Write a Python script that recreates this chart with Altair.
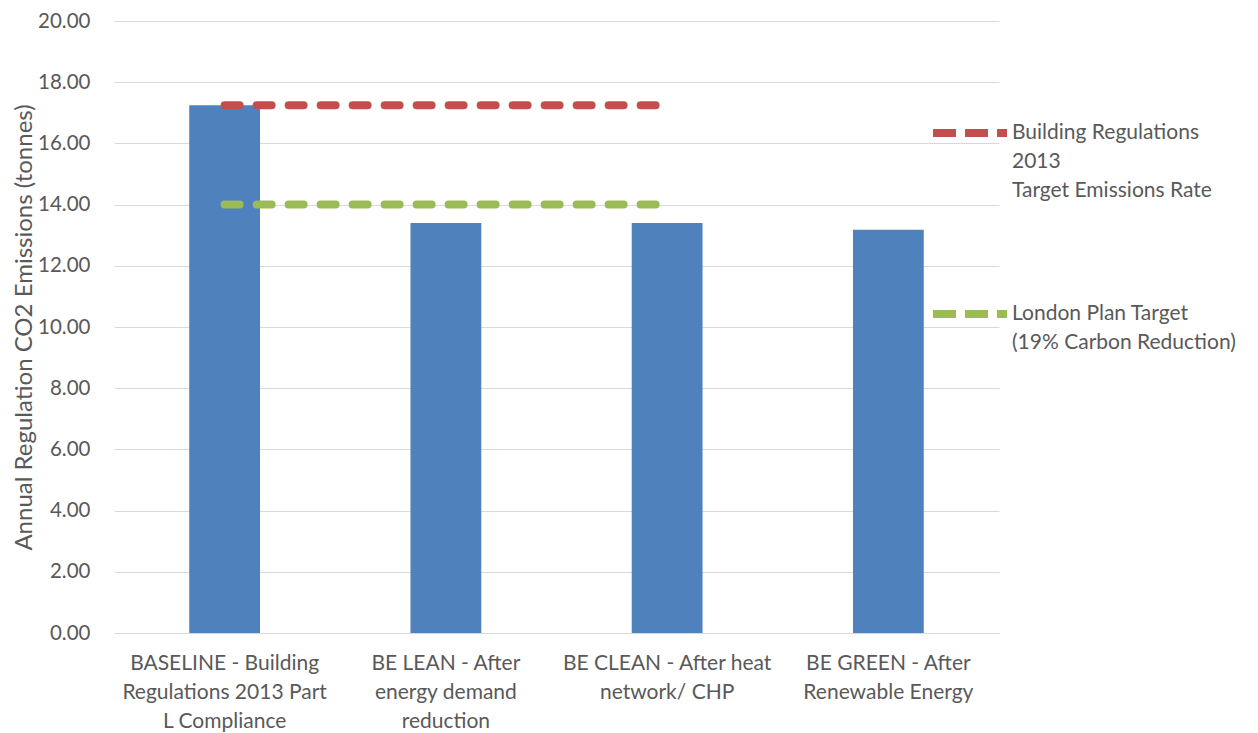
import altair as alt
import pandas as pd

# ---- data ----
categories = [
    "BASELINE - Building|Regulations 2013 Part|L Compliance",
    "BE LEAN - After|energy demand|reduction",
    "BE CLEAN - After heat|network/ CHP",
    "BE GREEN - After|Renewable Energy",
]
emissions = [17.25, 13.40, 13.40, 13.18]

series_names = [
    "Building Regulations|2013|Target Emissions Rate",
    "London Plan Target|(19% Carbon Reduction)",
]
line_categories = categories[:3]
br_target = [17.25, 17.25, 17.25]
lp_target = [14.00, 14.00, 14.00]

y_ticks = [0, 2, 4, 6, 8, 10, 12, 14, 16, 18, 20]

FONT = "Lato"
TXT = "#595959"

bars_df = pd.DataFrame({"cat": categories, "value": emissions})
lines_df = pd.DataFrame(
    {
        "cat": line_categories * 2,
        "value": br_target + lp_target,
        "series": [series_names[0]] * 3 + [series_names[1]] * 3,
    }
)

x_enc = alt.X(
    "cat:N",
    sort=categories,
    scale=alt.Scale(paddingInner=0.68, paddingOuter=0.34),
    axis=alt.Axis(
        title=None,
        labelAngle=0,
        labelExpr="split(datum.label, '|')",
        labelFont=FONT,
        labelFontSize=21,
        labelColor=TXT,
        labelLineHeight=29,
        labelPadding=19,
        labelLimit=400,
        ticks=False,
        domainColor="#d9d9d9",
        domainWidth=1,
        grid=False,
    ),
)
y_enc = alt.Y(
    "value:Q",
    scale=alt.Scale(domain=[0, 20], nice=False),
    axis=alt.Axis(
        title="Annual Regulation CO2 Emissions (tonnes)",
        titleFont=FONT,
        titleFontSize=24,
        titleFontWeight="normal",
        titleColor=TXT,
        titlePadding=1,
        values=y_ticks,
        format=".2f",
        labelFont=FONT,
        labelFontSize=20.5,
        labelColor=TXT,
        labelPadding=24,
        ticks=False,
        domain=False,
        gridColor="#d9d9d9",
        gridWidth=1,
    ),
)

bars = alt.Chart(bars_df).mark_bar(color="#4f81bd").encode(x=x_enc, y=y_enc)

lines = alt.Chart(lines_df).mark_line(
    strokeWidth=8, strokeDash=[15, 17], strokeCap="round"
).encode(
    x=alt.X("cat:N", sort=categories),
    y="value:Q",
    detail="series:N",
    color=alt.Color(
        "series:N",
        scale=alt.Scale(domain=series_names, range=["#c0504d", "#9bbb59"]),
        legend=alt.Legend(
            title=None,
            orient="none",
            legendX=815,
            legendY=71,
            padding=0,
            symbolType="stroke",
            symbolSize=5476,
            symbolStrokeWidth=8,
            symbolDash=[23, 9],
            labelExpr="split(datum.label, '|')",
            labelFont=FONT,
            labelFontSize=21,
            labelColor=TXT,
            labelOffset=1,
            labelLimit=400,
            rowPadding=72,
        ),
    ),
)

chart = (
    alt.layer(bars, lines)
    .properties(width=885, height=612, padding={"left": 4, "top": 3, "right": 5, "bottom": 5})
    .configure(style={"guide-label": {"lineHeight": 29}})
    .configure_view(stroke=None)
)

chart.save("out.html", embed_options={"renderer": "svg", "actions": False})
